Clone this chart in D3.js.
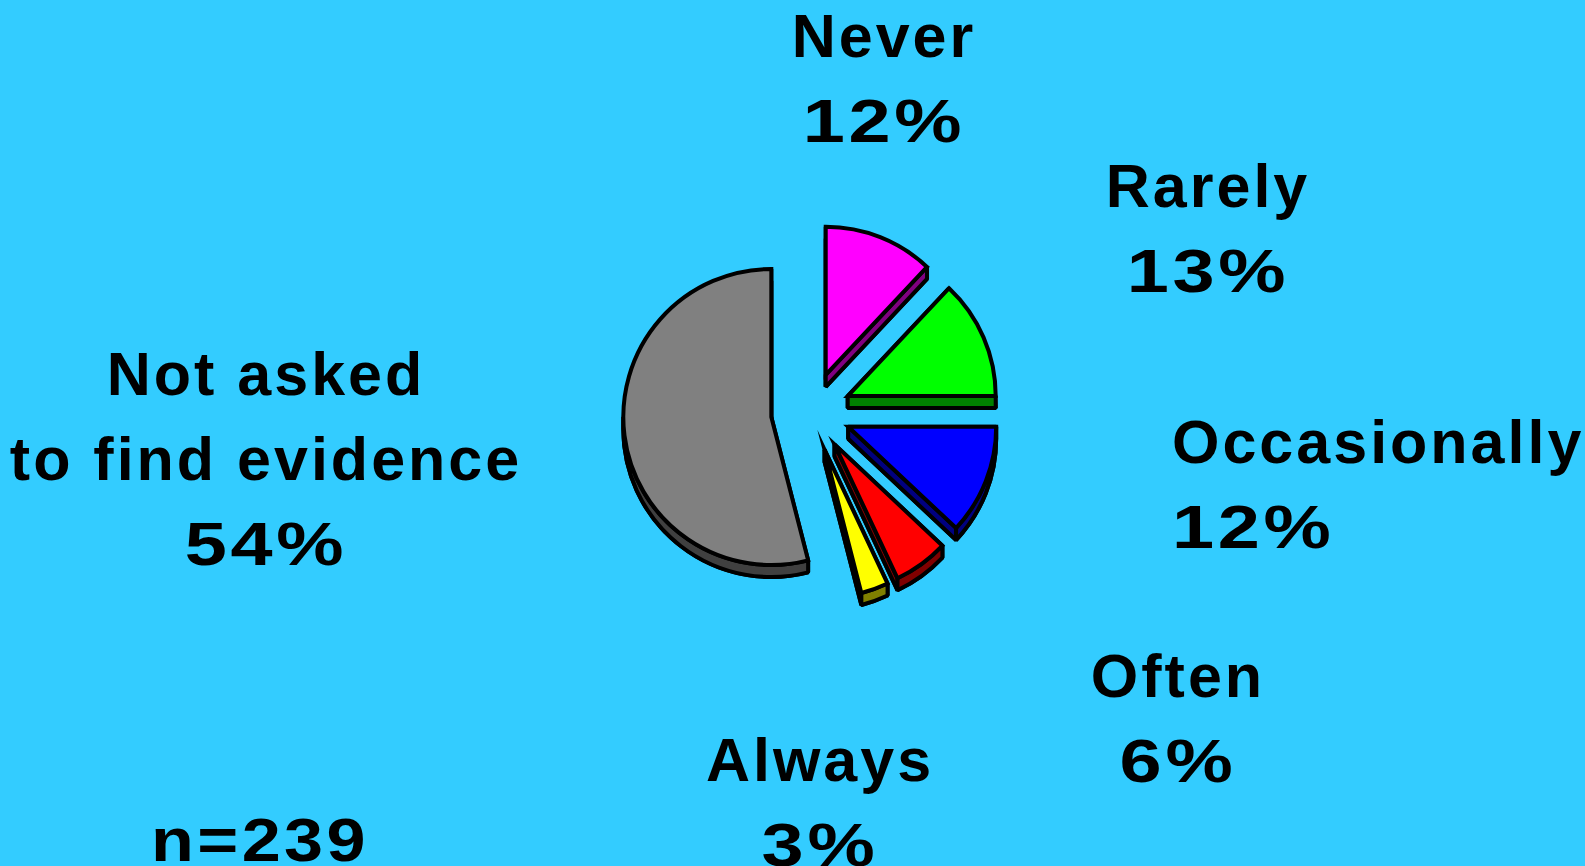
<!DOCTYPE html>
<html>
<head>
<meta charset="utf-8">
<script src="https://cdn.jsdelivr.net/npm/d3@7"></script>
<style>
   html, body { margin: 0; padding: 0; background: #33CCFF; }
   svg { display: block; }
   text { font-family: "Liberation Sans", Arial, sans-serif; font-weight: bold; font-size: 61px; letter-spacing: 3px; fill: #000; }
</style>
</head>
<body>
<div id="chart"></div>
<script>
// chart data
var categories = ["Never", "Rarely", "Occasionally", "Often", "Always", "Not asked to find evidence"];
var values = [12, 13, 12, 6, 3, 54];
var labelLines = [["Never", "12%"], ["Rarely", "13%"], ["Occasionally", "12%"],
                  ["Often", "6%"], ["Always", "3%"], ["Not asked", "to find evidence", "54%"]];
var sampleNote = "n=239";

// slice colours (top face, side face)
var topColors = ["#FF00FF", "#00FF00", "#0000FF", "#FF0000", "#FFFF00", "#808080"];
var sideColors = ["#800080", "#008000", "#000080", "#800000", "#808000", "#404040"];

// where each label block sits: x, first baseline, anchor
var labelPos = [
   {x: 884, y: 57, anchor: "middle"},
   {x: 1208, y: 207, anchor: "middle"},
   {x: 1172, y: 463, anchor: "start"},
   {x: 1178, y: 697, anchor: "middle"},
   {x: 820, y: 781, anchor: "middle"},
   {x: 266, y: 395, anchor: "middle"}
];
var lineGap = 85;
var numeralStretch = 1.24;   // the source font has much wider digits
var noteStretch = 1.15;

var width = 1585, height = 866;
var cx = 811, cy = 412, radius = 148, depth = 12, explode = 40;

var svg = d3.select("#chart").append("svg")
            .attr("width", width)
            .attr("height", height);

svg.append("rect")
   .attr("width", width)
   .attr("height", height)
   .attr("fill", "#33CCFF");

function pt(a, r) {
   return [r * Math.sin(a), -r * Math.cos(a)];
}

var slices = d3.pie().sort(null).startAngle(0).endAngle(2 * Math.PI)(values);
slices.forEach(function(d) {
   var mid = (d.startAngle + d.endAngle) / 2;
   d.off = pt(mid, explode);
});

var arc = d3.arc().innerRadius(0).outerRadius(radius);

// draw from back to front
var order = slices.slice().sort(function(a, b) { return a.off[1] - b.off[1]; });

order.forEach(function(d) {
   var g = svg.append("g")
              .attr("transform", "translate(" + (cx + d.off[0]) + "," + (cy + d.off[1]) + ")")
              .attr("stroke", "#000")
              .attr("stroke-width", 4)
              .attr("stroke-linejoin", "bevel");
   var side = sideColors[d.index];

   // bottom face
   g.append("path")
    .attr("d", arc(d))
    .attr("transform", "translate(0," + depth + ")")
    .attr("fill", side);

   // radial side walls
   [d.startAngle, d.endAngle].forEach(function(a) {
      var p = pt(a, radius);
      g.append("path")
       .attr("d", "M0,0L" + p[0] + "," + p[1] + "L" + p[0] + "," + (p[1] + depth) + "L0," + depth + "Z")
       .attr("fill", side);
   });

   // curved wall on the front half
   var b0 = Math.max(d.startAngle, Math.PI / 2), b1 = Math.min(d.endAngle, 3 * Math.PI / 2);
   if (b1 > b0) {
      var p0 = pt(b0, radius), p1 = pt(b1, radius);
      var large = (b1 - b0) > Math.PI ? 1 : 0;
      g.append("path")
       .attr("d", "M" + p0[0] + "," + p0[1] +
                  "A" + radius + "," + radius + " 0 " + large + " 1 " + p1[0] + "," + p1[1] +
                  "L" + p1[0] + "," + (p1[1] + depth) +
                  "A" + radius + "," + radius + " 0 " + large + " 0 " + p0[0] + "," + (p0[1] + depth) + "Z")
       .attr("fill", side);
   }

   // top face, sharp corners give the spiky tips of the original
   g.append("path")
    .attr("d", arc(d))
    .attr("stroke-linejoin", "miter")
    .attr("stroke-miterlimit", 20)
    .attr("fill", topColors[d.index]);
});

// widen lines that hold numbers, as in the original
function stretchNumbers(sel, k) {
   sel.each(function() {
      if (/\d/.test(this.textContent)) {
         var len = this.getComputedTextLength();
         d3.select(this)
           .attr("textLength", len * k)
           .attr("lengthAdjust", "spacingAndGlyphs");
      }
   });
}

// labels, one text per line
labelLines.forEach(function(lines, i) {
   lines.forEach(function(line, j) {
      var t = svg.append("text")
                 .attr("x", labelPos[i].x)
                 .attr("y", labelPos[i].y + j * lineGap)
                 .attr("text-anchor", labelPos[i].anchor)
                 .text(line);
      stretchNumbers(t, numeralStretch);
   });
});

var note = svg.append("text")
              .attr("x", 260)
              .attr("y", 861)
              .attr("text-anchor", "middle")
              .text(sampleNote);
stretchNumbers(note, noteStretch);
</script>
</body>
</html>
